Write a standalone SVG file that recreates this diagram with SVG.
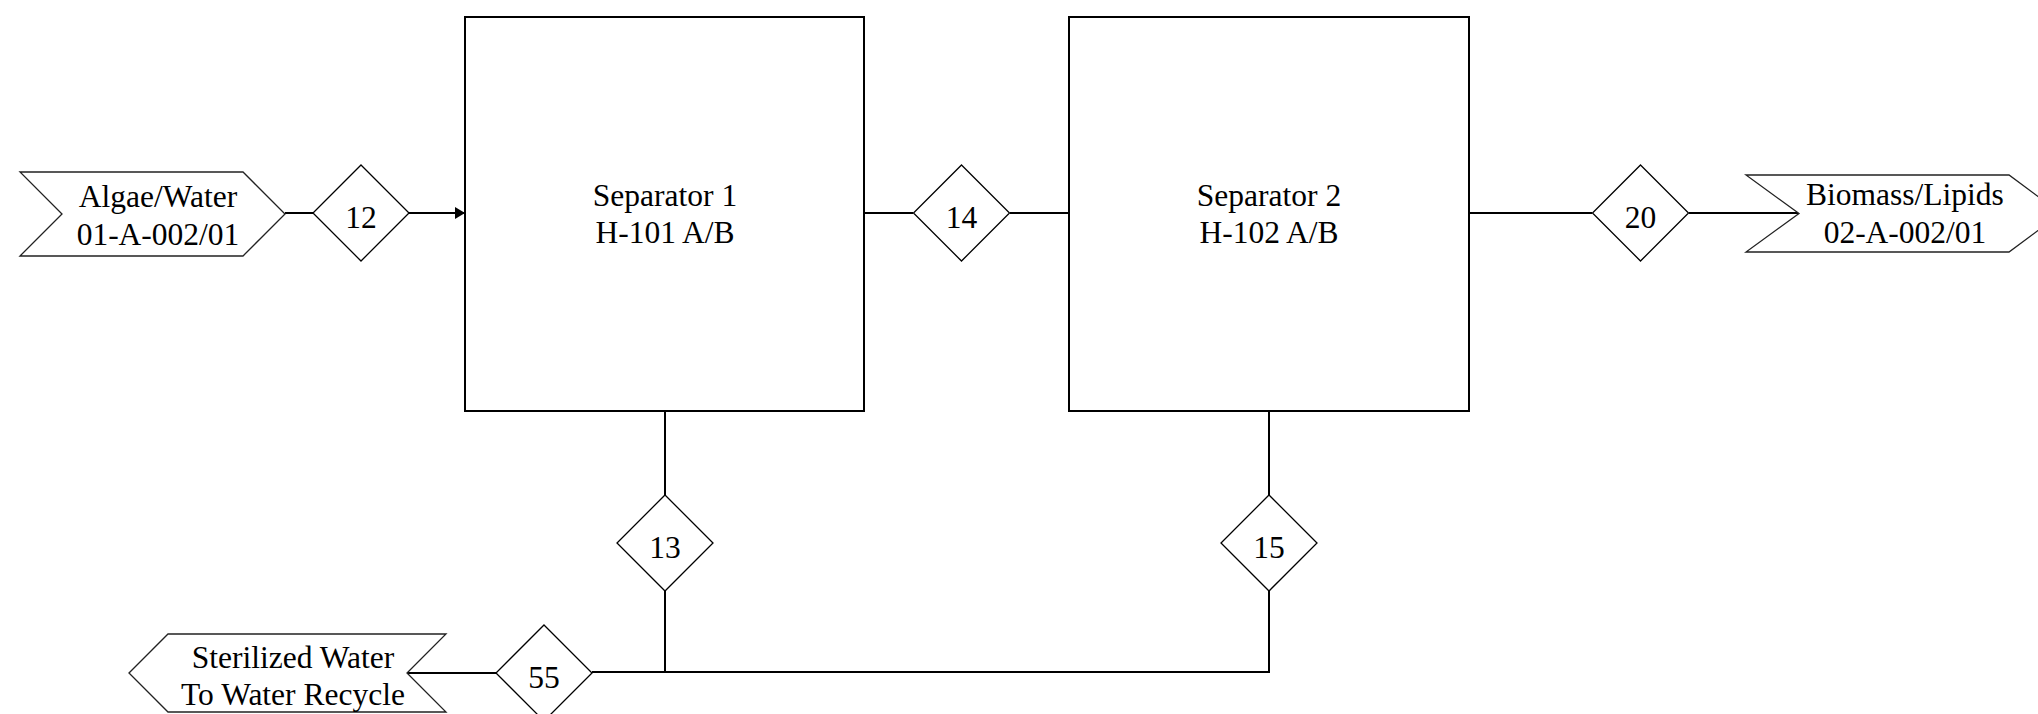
<svg xmlns="http://www.w3.org/2000/svg" width="2038" height="714" viewBox="0 0 2038 714">
<style>
.box{fill:#fff;stroke:#000;stroke-width:2}
.dia{fill:#fff;stroke:#000;stroke-width:1.3}
.chev{fill:#fff;stroke:#222;stroke-width:1.3}
.con{fill:none;stroke:#000;stroke-width:2}
text{font-family:"Liberation Serif","Times New Roman",serif;font-size:31.5px;fill:#000;text-anchor:middle}
</style>
<defs>
<marker id="arr" markerWidth="10" markerHeight="12" refX="10" refY="6" orient="auto" markerUnits="userSpaceOnUse">
<path d="M0,0 L10,6 L0,12 Z" fill="#000"/>
</marker>
</defs>
<rect width="2038" height="714" fill="#fff"/>
<g id="connectors">
<line class="con" x1="285" y1="213" x2="313" y2="213"/>
<line class="con" x1="408" y1="213" x2="465" y2="213" marker-end="url(#arr)"/>
<line class="con" x1="864" y1="213" x2="913" y2="213"/>
<line class="con" x1="1010" y1="213" x2="1069" y2="213"/>
<line class="con" x1="1469" y1="213" x2="1592" y2="213"/>
<line class="con" x1="1689" y1="213" x2="1799" y2="213"/>
<line class="con" x1="665" y1="411" x2="665" y2="495"/>
<line class="con" x1="665" y1="591" x2="665" y2="672"/>
<line class="con" x1="1269" y1="411" x2="1269" y2="495"/>
<polyline class="con" points="1269,591 1269,672 665,672"/>
<line class="con" x1="665" y1="672" x2="592" y2="672"/>
<line class="con" x1="496" y1="673" x2="407" y2="673"/>
</g>
<g id="in-algae">
<polygon class="chev" points="20,172 243,172 285,214 243,256 20,256 62,214"/>
<text x="158" y="207">Algae/Water</text>
<text x="158" y="245">01-A-002/01</text>
</g>
<g id="s12">
<polygon class="dia" points="361,165 409,213 361,261 313,213"/>
<text x="361" y="228">12</text>
</g>
<g id="sep1">
<rect class="box" x="465" y="17" width="399" height="394"/>
<text x="665" y="206">Separator 1</text>
<text x="665" y="243">H-101 A/B</text>
</g>
<g id="s14">
<polygon class="dia" points="961.5,165 1009.5,213 961.5,261 913.5,213"/>
<text x="961.5" y="228">14</text>
</g>
<g id="sep2">
<rect class="box" x="1069" y="17" width="400" height="394"/>
<text x="1269" y="206">Separator 2</text>
<text x="1269" y="243">H-102 A/B</text>
</g>
<g id="s20">
<polygon class="dia" points="1640.5,165 1688.5,213 1640.5,261 1592.5,213"/>
<text x="1640.5" y="228">20</text>
</g>
<g id="out-biomass">
<polygon class="chev" points="1746,175 2009,175 2061,213.5 2009,252 1746,252 1799,213.5"/>
<text x="1905" y="205">Biomass/Lipids</text>
<text x="1905" y="243">02-A-002/01</text>
</g>
<g id="s13">
<polygon class="dia" points="665,495 713,543 665,591 617,543"/>
<text x="665" y="557.5">13</text>
</g>
<g id="s15">
<polygon class="dia" points="1269,495 1317,543 1269,591 1221,543"/>
<text x="1269" y="557.5">15</text>
</g>
<g id="s55">
<polygon class="dia" points="544,625 592,673 544,721 496,673"/>
<text x="544" y="687.5">55</text>
</g>
<g id="out-water">
<polygon class="chev" points="129,673 168,634 446,634 407,673 446,712 168,712"/>
<text x="293" y="667.5">Sterilized Water</text>
<text x="293" y="705">To Water Recycle</text>
</g>
</svg>
